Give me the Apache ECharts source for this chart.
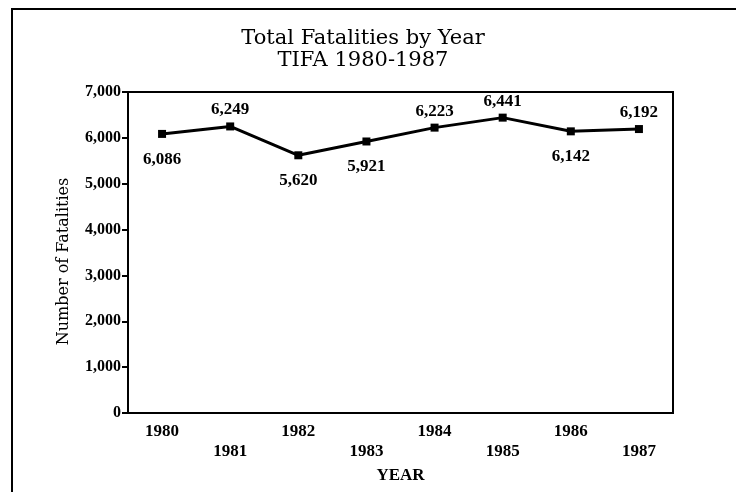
<!DOCTYPE html>
<html>
<head>
<meta charset="utf-8">
<script src="https://cdn.jsdelivr.net/npm/echarts@6/dist/echarts.min.js"></script>
<style>
  html, body { margin: 0; padding: 0; background: #fff; }
  #chart { width: 736px; height: 492px; }
</style>
</head>
<body>
<div id="chart"></div>
<script>
// values
const years = ['1980', '1981', '1982', '1983', '1984', '1985', '1986', '1987']
const fatalities = [6086, 6249, 5620, 5921, 6223, 6441, 6142, 6192]
const yTicks = [0, 1000, 2000, 3000, 4000, 5000, 6000, 7000]

const titleFont = 'DejaVu Serif'
const numFont = 'Liberation Serif'
// which data labels sit above the point
const labelsAbove = [false, true, false, false, true, true, false, true]

const chart = echarts.init(document.getElementById('chart'))

const fmt = v => v.toLocaleString('en-US')

chart.setOption({
  backgroundColor: '#fff',
  animation: false,
  title: {
    text: 'Total Fatalities by Year\nTIFA 1980-1987',
    left: 358,
    textAlign: 'center',
    top: 23,
    textStyle: {
      fontFamily: titleFont,
      fontSize: 21,
      fontWeight: 'normal',
      color: '#000',
      lineHeight: 22
    }
  },
  graphic: [{
    type: 'rect',
    shape: { x: 12, y: 9, width: 800, height: 600 },
    style: { fill: 'none', stroke: '#000', lineWidth: 2 }
  }],
  grid: {
    left: 128,
    right: 63,
    top: 92,
    bottom: 79,
    show: true,
    borderColor: '#000',
    borderWidth: 2,
    backgroundColor: 'transparent'
  },
  xAxis: {
    type: 'category',
    data: years,
    boundaryGap: true,
    name: 'YEAR',
    nameLocation: 'middle',
    nameGap: 40,
    nameTextStyle: { fontFamily: numFont, fontSize: 17, fontWeight: 'bold', color: '#000' },
    axisLine: { lineStyle: { color: '#000', width: 2 } },
    axisTick: { alignWithLabel: true, length: 6, lineStyle: { color: '#000', width: 2 } },
    axisLabel: {
      fontFamily: numFont,
      fontSize: 17,
      fontWeight: 'bold',
      color: '#000',
      margin: 9,
      lineHeight: 20,
      interval: 0,
      formatter: (v, i) => (i % 2 === 1 ? '\n' + v : v)
    },
    splitLine: { show: false }
  },
  yAxis: {
    type: 'value',
    min: yTicks[0],
    max: yTicks[yTicks.length - 1],
    interval: 1000,
    name: 'Number of Fatalities',
    nameLocation: 'middle',
    nameGap: 56,
    nameTextStyle: {
      fontFamily: titleFont,
      fontSize: 16,
      fontWeight: 'normal',
      color: '#000',
      padding: [0, 18, 0, 0]
    },
    axisLine: { show: true, lineStyle: { color: '#000', width: 2 } },
    axisTick: { show: true, length: 6, lineStyle: { color: '#000', width: 2 } },
    axisLabel: {
      fontFamily: numFont,
      fontSize: 16,
      fontWeight: 'bold',
      color: '#000',
      margin: 7,
      formatter: v => fmt(v)
    },
    splitLine: { show: false }
  },
  series: [{
    type: 'line',
    data: fatalities.map((v, i) => ({
      value: v,
      label: {
        position: labelsAbove[i] ? 'top' : 'bottom',
        distance: labelsAbove[i] ? 4 : 13
      }
    })),
    symbol: 'rect',
    symbolSize: 8,
    lineStyle: { color: '#000', width: 3 },
    itemStyle: { color: '#000' },
    label: {
      show: true,
      fontFamily: numFont,
      fontSize: 17,
      fontWeight: 'bold',
      color: '#000',
      formatter: p => fmt(p.value)
    }
  }]
})
</script>
</body>
</html>
